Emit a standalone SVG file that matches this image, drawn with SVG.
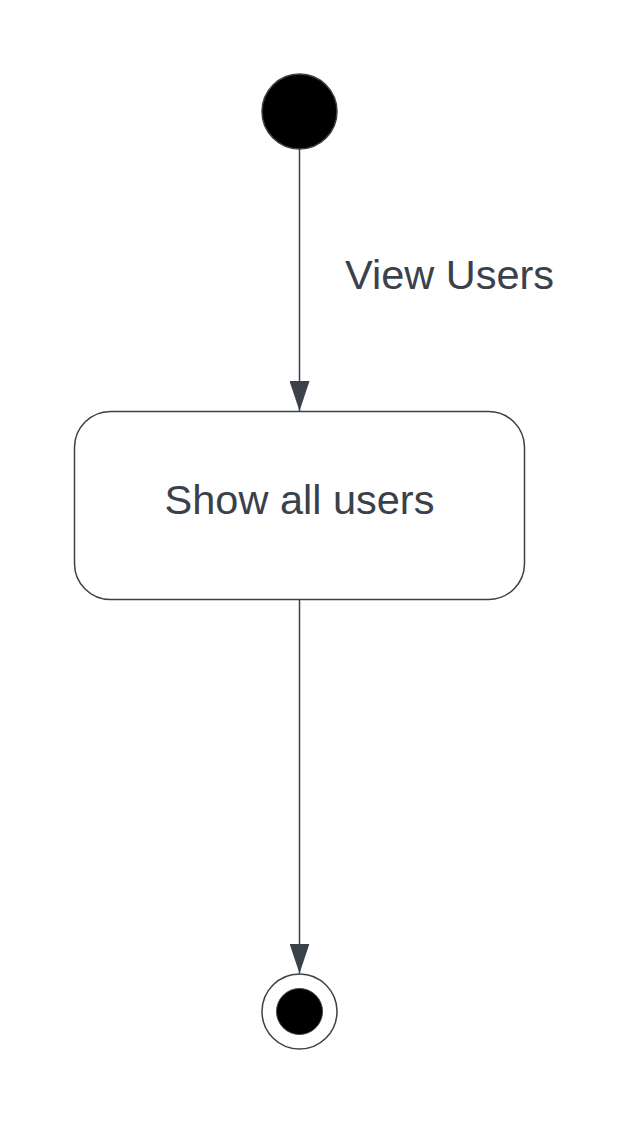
<svg xmlns="http://www.w3.org/2000/svg" width="638" height="1125" viewBox="0 0 638 1125">
<style>
.edge{stroke:#3a414a;stroke-width:1.5;fill:none}
.lbl{font-family:"Liberation Sans",Arial,sans-serif;font-size:41.5px;fill:#3a414a}
</style>
<defs>
<marker id="arr" markerUnits="userSpaceOnUse" markerWidth="30" markerHeight="20" refX="30" refY="10" orient="auto" viewBox="0 0 30 20">
<path d="M0,0 L30,10 L0,20 Z" fill="#3a414a"/>
</marker>
</defs>
<rect width="638" height="1125" fill="#ffffff"/>
<g id="connectors">
<line class="edge" x1="299.5" y1="149" x2="299.5" y2="411" marker-end="url(#arr)"/>
<text class="lbl" x="345" y="289">View Users</text>
<line class="edge" x1="299.5" y1="599" x2="299.5" y2="973.5" marker-end="url(#arr)"/>
</g>
<g id="start">
<circle cx="299.5" cy="111.5" r="37.5" fill="#000" stroke="#3a414a" stroke-width="1.5"/>
</g>
<g id="show-all-users">
<rect x="74.5" y="411.5" width="450" height="188" rx="36" ry="36" fill="#fff" stroke="#3a414a" stroke-width="1.5"/>
<text class="lbl" x="299.5" y="514" text-anchor="middle">Show all users</text>
</g>
<g id="end">
<circle cx="299.5" cy="1011.5" r="37.5" fill="#fff" stroke="#3a414a" stroke-width="1.5"/>
<circle cx="299.5" cy="1011.5" r="23" fill="#000" stroke="#3a414a" stroke-width="1"/>
</g>
</svg>
